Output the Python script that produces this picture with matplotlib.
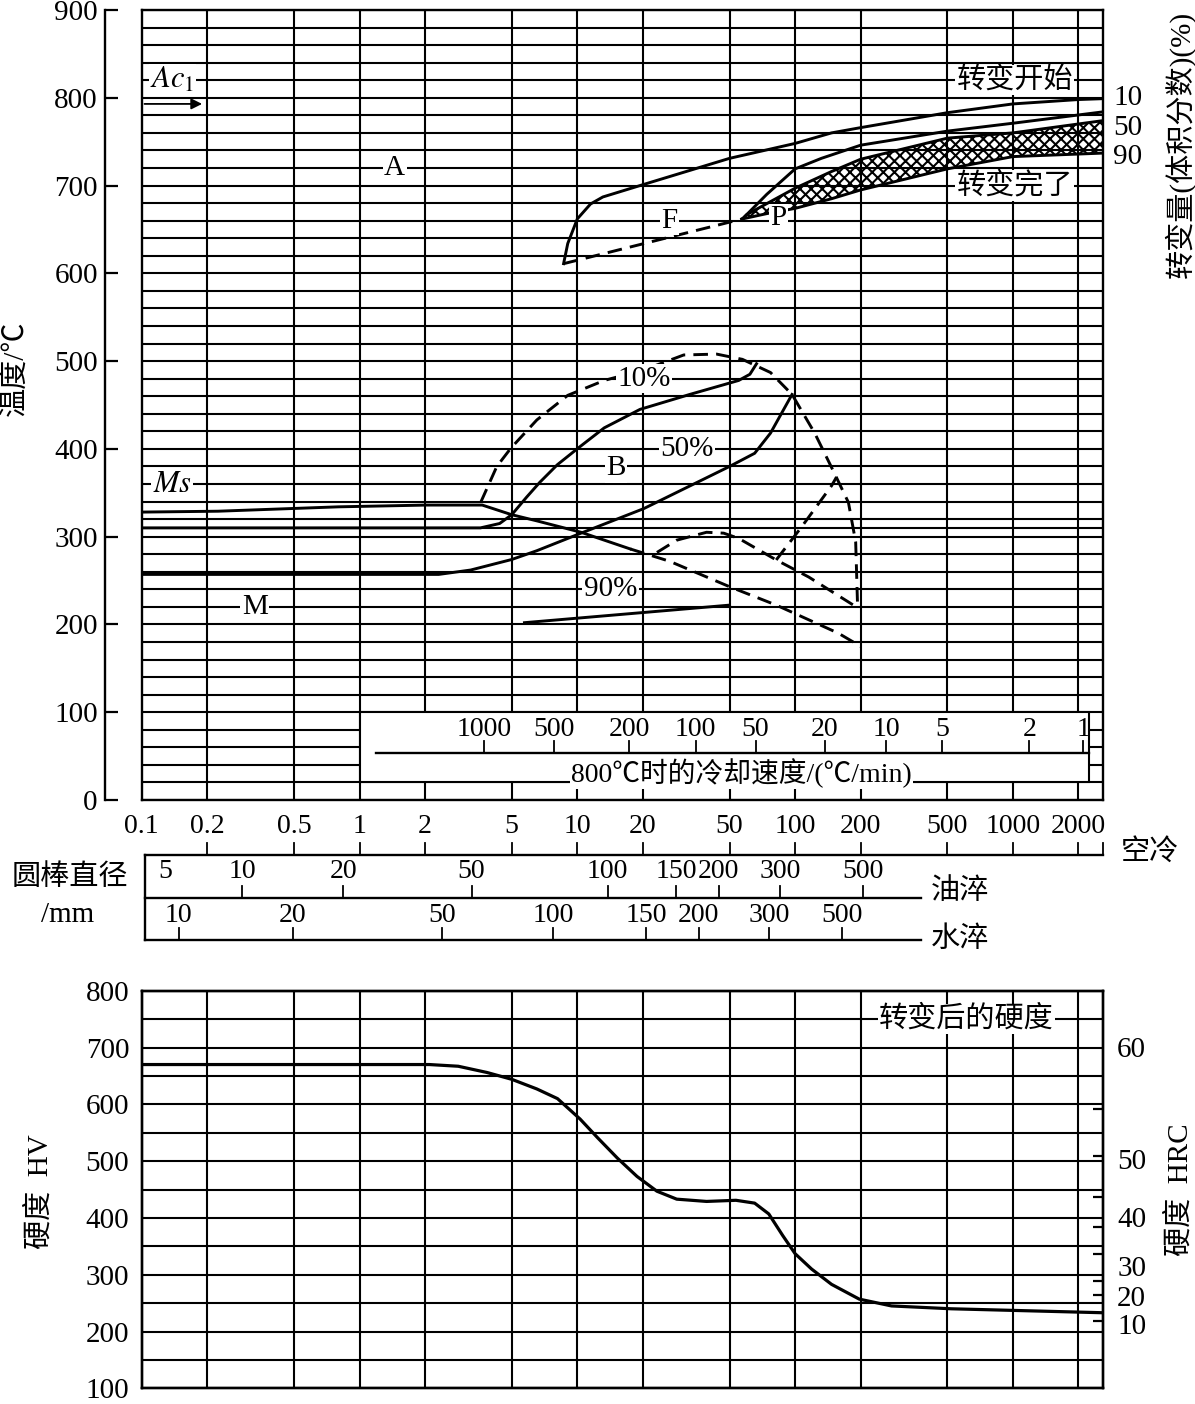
import numpy as np
import matplotlib.pyplot as plt
from matplotlib.patches import Rectangle
from matplotlib.ticker import FixedLocator, NullLocator
from matplotlib.transforms import blended_transform_factory

plt.rcParams['font.family'] = ['Liberation Serif', 'Noto Sans CJK SC']
plt.rcParams['mathtext.fontset'] = 'stix'
plt.rcParams['hatch.linewidth'] = 1.5

# ---------------- data ----------------
# log grid of the time axis (same for both panels)
t_grid = [0.2, 0.5, 1, 2, 5, 10, 20, 50, 100, 200, 500, 1000, 2000]

# temperature grid
T_major = list(range(0, 901, 100))
T_minor = [v for v in range(20, 900, 20) if v % 100] + [310]

# bar diameter scales (mm) under the diagram
air_labels = ['0.1', '0.2', '0.5', '1', '2', '5', '10', '20', '50', '100', '200', '500', '1000', '2000']
air_t = [0.1, 0.2, 0.5, 1, 2, 5, 10, 20, 50, 100, 200, 500, 1000, 2000]
oil_labels = ['5', '10', '20', '50', '100', '150', '200', '300', '500']
oil_t = [0.128, 0.29, 0.841, 3.27, 13.8, 28.5, 44.5, 85.2, 205.6]
water_labels = ['10', '20', '50', '100', '150', '200', '300', '500']
water_t = [0.148, 0.493, 2.39, 7.73, 20.7, 36.1, 75.7, 164.4]

# cooling rate at 800C (C/min) scale inside the diagram
rate_labels = ['1000', '500', '200', '100', '50', '20', '10', '5', '2', '1']
rate_t = [3.73, 7.85, 17.3, 34.9, 65.8, 136.7, 262, 474, 1189, 2102]

# ferrite start (10 %)
fs_t = [8.65, 9.04, 10, 11.5, 13.1, 20, 50, 100, 147, 200, 500, 1000, 2000, 2600]
fs_T = [611, 634, 662, 679, 687, 701, 731, 748, 760, 766, 783, 793, 798, 799]
# ferrite dashed limit
fd_t = [8.65, 57.3]
fd_T = [611, 662]
# 50 % line in the F/P region
p50_t = [57.3, 74.1, 100, 132, 200, 500, 1000, 2600]
p50_T = [662, 690, 719, 731, 746, 762, 771, 784]
# pearlite band (hatched)
ph_top_t = [57.3, 60, 100, 147, 200, 500, 1000, 2600]
ph_top_T = [662, 667, 697, 716, 730, 754, 760, 774]
ph_bot_t = [57.3, 74, 100, 147, 200, 500, 1000, 2600]
ph_bot_T = [662, 668, 674, 685, 695, 719, 733, 737]

# Ms line, solid part then dashed part
ms_t = [0.1, 0.224, 0.803, 2.03, 3.66, 5.0, 6.52, 10.4, 17.5]
ms_T = [328, 329, 334, 336, 336, 325, 318, 305, 286]
msd_t = [17.5, 26.5, 50, 82, 158, 200]
msd_T = [286, 272, 243, 222, 190, 175]
# bainite lines
bs_t = [0.1, 3.59, 4.4, 5.0, 5.85, 6.73, 8.1, 10.1, 13.3, 19.4, 32.8, 55.1, 62, 66.5]
bs_T = [310, 310, 315, 325, 345, 362, 382, 401, 424, 445, 462, 478, 485, 497]
b50_t = [0.1, 2.31, 3.24, 5.0, 6.52, 10.4, 20.2, 50, 65.2, 77.1, 96.8]
b50_T = [257, 257, 262, 274, 284, 304, 332, 380, 395, 418, 462]
b90_t = [5.72, 50]
b90_T = [202, 222]
b10_t = [3.6, 4.27, 4.96, 6.52, 9.04, 13.3, 20.2, 30.8, 43.6, 57.3, 77.1, 96.8, 123, 151.7, 175.7, 189.7, 193.6]
b10_T = [339, 380, 401, 433, 461, 478, 490, 507, 508, 502, 487, 462, 418, 372, 339, 294, 220]
hd_t = [23.2, 28.6, 39.2, 47, 55.1, 81.9, 115.5, 193.6]
hd_T = [282, 296, 305, 304, 298, 273.5, 254, 219]
rd_t = [81.9, 107, 147, 155]
rd_T = [273.5, 311, 358, 368]

# hardness after transformation
hv_t = [0.1, 2.09, 2.84, 3.85, 5.0, 6.52, 8.11, 10.3, 12.4, 15.3, 18.8, 23.2, 28.6, 39.2,
        53.5, 65.2, 75.7, 87.7, 100, 119, 147, 197, 277, 521, 2600]
hv_val = [670, 670, 667, 656, 644, 627, 610, 574, 541, 505, 473, 447, 433, 429,
          431, 426, 407, 369, 337, 310, 283, 257, 245, 240, 233]
hv_major = list(range(100, 801, 100))
hv_minor = list(range(150, 800, 100))
hrc_labels = ['60', '50', '40', '30', '20', '10']
hrc_label_pos = [701, 504, 402, 315, 262, 213]
hrc_tick_pos = [592, 509, 436, 384, 336, 289, 264, 219]

# ---------------- figure ----------------
W, H = 1195, 1404
fig = plt.figure(figsize=(W / 100, H / 100), dpi=100)

def fx(px):
    return px / W

def fy(py):
    return 1 - py / H

L, R = 141.7, 1103.3
GRID_LW = 1.5
LW = 2.1
NUM_FS = 21
white = dict(facecolor='white', edgecolor='none', pad=1.0)
DASH = (5, 2.8)

# ====== top: CCT diagram ======
ax = fig.add_axes([fx(L), fy(800), (R - L) / W, 790 / H])
ax.set_xscale('log')
ax.set_xlim(0.1, 2600)
ax.set_ylim(0, 900)
ax.set_axisbelow(True)
ax.xaxis.set_major_locator(FixedLocator(t_grid))
ax.xaxis.set_minor_locator(NullLocator())
ax.tick_params(axis='x', which='both', length=0, labelbottom=False)
ax.set_yticks(T_major)
ax.set_yticks(T_minor, minor=True)
ax.tick_params(axis='y', which='major', direction='in', length=9.5, width=1.6, pad=5, labelsize=NUM_FS)
ax.tick_params(axis='y', which='minor', length=0)
ax.spines['left'].set_position(('outward', 26.6))
for s in ax.spines.values():
    s.set_linewidth(1.7)
ax.grid(True, which='both', color='k', lw=GRID_LW)
ax.axvline(0.1, color='k', lw=1.7, clip_on=False)

# cooling-rate inset box
ax.add_patch(Rectangle((1.0, 20), 2240 - 1.0, 80, facecolor='white', edgecolor='k', lw=GRID_LW, zorder=1))
ax.plot([1.19, 2240], [54, 54], color='k', lw=1.7, zorder=2)
for t in rate_t:
    ax.plot([t, t], [54, 67], color='k', lw=1.3, zorder=2)
for lab, t in zip(rate_labels, rate_t):
    ax.text(t, 80, lab, ha='center', va='center', fontsize=20)
ax.text(56.6, 31, '800℃时的冷却速度/(℃/min)', ha='center', va='center', fontsize=20, bbox=white)

# curves
ax.plot(fs_t, fs_T, color='k', lw=LW)
ax.plot(fd_t, fd_T, color='k', lw=LW, dashes=DASH)
ax.plot(p50_t, p50_T, color='k', lw=LW)
band_t = ph_top_t + ph_bot_t[::-1]
band_T = ph_top_T + ph_bot_T[::-1]
ax.fill(band_t, band_T, facecolor='none', edgecolor='k', hatch='xxx', lw=0)
ax.plot(ph_top_t, ph_top_T, color='k', lw=LW)
ax.plot(ph_bot_t, ph_bot_T, color='k', lw=LW)

ax.plot(ms_t, ms_T, color='k', lw=LW)
ax.plot(msd_t, msd_T, color='k', lw=LW, dashes=DASH)
ax.plot(bs_t, bs_T, color='k', lw=LW)
ax.plot(b50_t, b50_T, color='k', lw=LW)
ax.plot(b90_t, b90_T, color='k', lw=LW)
ax.plot(b10_t, b10_T, color='k', lw=LW, dashes=DASH)
ax.plot(hd_t, hd_T, color='k', lw=LW, dashes=DASH)
ax.plot(rd_t, rd_T, color='k', lw=LW, dashes=DASH)

# Ac1 arrow
ax.annotate('', xy=(0.195, 793), xytext=(0.1, 793),
            arrowprops=dict(arrowstyle='-|>', color='k', lw=1.3, mutation_scale=16))

# labels sitting on grid lines
ax.text(0.138, 820, r'$Ac_{\rm 1}$', ha='center', va='center', fontsize=22, bbox=white)
ax.text(0.138, 360, r'$Ms$', ha='center', va='center', fontsize=22, bbox=white)
for txt, t, T in [('A', 1.45, 720), ('F', 26.5, 660), ('P', 83.6, 663), ('B', 15.0, 378),
                  ('M', 0.33, 220), ('10%', 20.2, 480), ('50%', 31.8, 400), ('90%', 14.2, 240)]:
    ax.text(t, T, txt, ha='center', va='center', fontsize=NUM_FS, bbox=white)
ax.text(1020, 820, '转变开始', ha='center', va='center', fontsize=21, bbox=white)
ax.text(1020, 700, '转变完了', ha='center', va='center', fontsize=21, bbox=white)

trans = blended_transform_factory(ax.transAxes, ax.transData)
xr = 1.0 + (1128 - R) / (R - L)
for lab, T in [('10', 800), ('50', 766), ('90', 733)]:
    ax.text(xr, T, lab, transform=trans, ha='center', va='center', fontsize=NUM_FS, clip_on=False)

fig.text(fx(15), fy(368), '温度/℃', rotation=90, ha='center', va='center', fontsize=21)
fig.text(fx(1180), fy(144), '转变量(体积分数)(%)', rotation=90, ha='center', va='center', fontsize=21)

# ====== bar diameter scales ======
axs = fig.add_axes([fx(L), fy(962), (R - L) / W, (962 - 805) / H])
axs.set_xscale('log')
axs.set_xlim(0.1, 2600)
axs.set_ylim(962, 805)
axs.axis('off')
x0 = 0.1038
axs.plot([x0, 2600], [855, 855], color='k', lw=1.7, clip_on=False)
axs.plot([x0, x0], [855, 940], color='k', lw=1.7, clip_on=False)
axs.plot([x0, 379], [898, 898], color='k', lw=1.7, clip_on=False)
axs.plot([x0, 379], [940, 940], color='k', lw=1.7, clip_on=False)
for t in air_t[1:] + [2600]:
    axs.plot([t, t], [855, 843], color='k', lw=1.3, clip_on=False)
for lab, t in zip(air_labels, air_t):
    axs.text(t, 826, lab, ha='center', va='center', fontsize=20, clip_on=False)
for t in oil_t[1:]:  # the 5 mm mark has no tick
    axs.plot([t, t], [898, 886], color='k', lw=1.3, clip_on=False)
for lab, t in zip(oil_labels, oil_t):
    axs.text(t, 871, lab, ha='center', va='center', fontsize=20, clip_on=False)
for t in water_t:
    axs.plot([t, t], [940, 928], color='k', lw=1.3, clip_on=False)
for lab, t in zip(water_labels, water_t):
    axs.text(t, 915, lab, ha='center', va='center', fontsize=20, clip_on=False)

fig.text(fx(1150), fy(852), '空冷', ha='center', va='center', fontsize=21)
fig.text(fx(960), fy(892), '油淬', ha='center', va='center', fontsize=21)
fig.text(fx(960), fy(940), '水淬', ha='center', va='center', fontsize=21)
fig.text(fx(70), fy(878), '圆棒直径', ha='center', va='center', fontsize=21)
fig.text(fx(68), fy(915), '/mm', ha='center', va='center', fontsize=21)

# ====== bottom: hardness ======
axb = fig.add_axes([fx(L), fy(1388.3), (R - L) / W, (1388.3 - 990.7) / H])
axb.set_xscale('log')
axb.set_xlim(0.1, 2600)
axb.set_ylim(100, 800)
axb.set_axisbelow(True)
axb.xaxis.set_major_locator(FixedLocator(t_grid))
axb.xaxis.set_minor_locator(NullLocator())
axb.tick_params(axis='x', which='both', length=0, labelbottom=False)
axb.set_yticks(hv_major)
axb.set_yticks(hv_minor, minor=True)
axb.tick_params(axis='y', which='both', length=0, pad=9, labelsize=NUM_FS)
for s in axb.spines.values():
    s.set_linewidth(1.7)
axb.grid(True, which='both', color='k', lw=GRID_LW)
axb.plot(hv_t, hv_val, color='k', lw=2.3)
axb.text(612, 750, '转变后的硬度', ha='center', va='center', fontsize=21, bbox=white)

axr = axb.twinx()
axr.set_ylim(100, 800)
axr.set_yticks(hrc_label_pos)
axr.set_yticklabels(hrc_labels)
axr.set_yticks(hrc_tick_pos, minor=True)
axr.tick_params(axis='y', which='major', length=0, pad=10, labelsize=NUM_FS)
axr.tick_params(axis='y', which='minor', direction='in', length=7, width=1.6)
for s in axr.spines.values():
    s.set_linewidth(1.7)

fig.text(fx(40), fy(1192), '硬度  HV', rotation=90, ha='center', va='center', fontsize=21)
fig.text(fx(1180), fy(1190), '硬度  HRC', rotation=90, ha='center', va='center', fontsize=21)

fig.savefig('out.png', dpi=100)
